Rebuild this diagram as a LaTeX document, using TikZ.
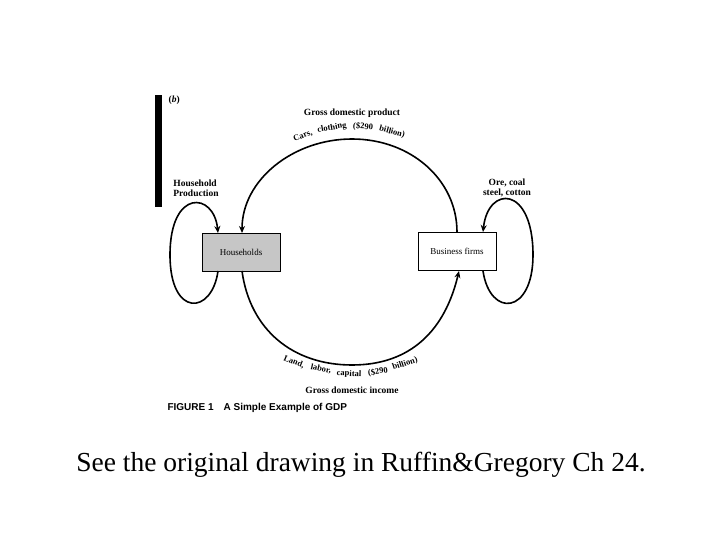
\documentclass[tikz,border=0pt]{standalone}
\usepackage{fontspec}
\setmainfont{Liberation Serif}
\setsansfont{Liberation Sans}
\usetikzlibrary{arrows.meta}
\begin{document}
\begin{tikzpicture}[x=1pt,y=-1pt,
  box/.style={draw,line width=1pt,minimum width=78pt,minimum height=38pt,inner sep=0pt,font=\fontsize{9}{10}\selectfont},
  flow/.style={line width=1.6pt,-{Stealth[length=7pt,width=6pt]}},
  lbl/.style={font=\fontsize{9.5}{10}\selectfont\bfseries,align=center,inner sep=0.5pt},
  arcl/.style={font=\fontsize{8.5}{9}\selectfont\bfseries,inner sep=0pt}]
\useasboundingbox (0,0) rectangle (720,540);
\fill[black] (155,95) rectangle (162,207);
\node[lbl,anchor=west] (b) at (168,100) {(\textit{b})};
\node[box,fill=gray!45] (hh) at (241,252) {Households};
\node[box] (bf) at (457,251.5) {Business firms};
\node[lbl] (gdp) at (352,113) {Gross domestic product};
\node[lbl,align=left] (hp) at (196,188) {Household\\Production};
\node[lbl] (ore) at (507,188) {Ore, coal\\steel, cotton};
\node[lbl] (gdi) at (352,390) {Gross domestic income};
\node[font=\fontsize{10}{11}\sffamily\bfseries,anchor=west] (fig) at (164,408) {FIGURE 1\quad A Simple Example of GDP};
\node[font=\fontsize{27.5}{30}\selectfont] (cap) at (361,465) {See the original drawing in Ruffin\&Gregory Ch 24.};
\coordinate (htop) at (242,233);
\coordinate (hbot) at (242,271);
\coordinate (btop) at (457,232);
\coordinate (bbot) at (459,271);
\draw[flow] (btop) .. controls (457,180) and (411,139) .. (352,139) .. controls (293,139) and (242,180) .. (htop);
\draw[flow] (hbot) .. controls (250,330) and (293,365) .. (352,365) .. controls (411,365) and (445,330) .. (bbot);
\coordinate (hl1) at (218,271);
\coordinate (hl2) at (218,233);
\draw[flow] (hl1) .. controls (212,315) and (170,318) .. (170,255) .. controls (170,188) and (214,192) .. (hl2);
\coordinate (bl1) at (483,271);
\coordinate (bl2) at (483,232);
\draw[flow] (bl1) .. controls (490,318) and (533,315) .. (533,255) .. controls (533,185) and (488,185) .. (bl2);
\node[arcl,rotate=22] (c1) at (303,136) {Cars,};
\node[arcl,rotate=10] (c2) at (332,128) {clothing};
\node[arcl,rotate=-4] (c3) at (363,127) {(\$290};
\node[arcl,rotate=-15] (c4) at (392,132) {billion)};
\node[arcl,rotate=-22] (l1) at (294,362) {Land,};
\node[arcl,rotate=-12] (l2) at (321,369) {labor,};
\node[arcl,rotate=-2] (l3) at (349,374) {capital};
\node[arcl,rotate=8] (l4) at (378,372) {(\$290};
\node[arcl,rotate=18] (l5) at (405,364) {billion)};
\end{tikzpicture}
\end{document}
